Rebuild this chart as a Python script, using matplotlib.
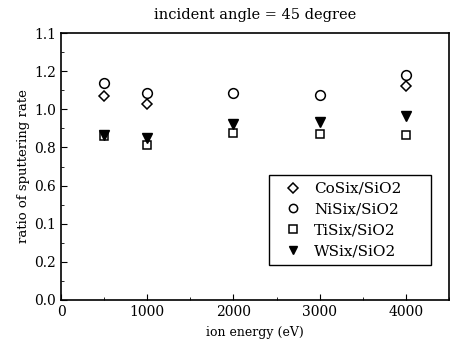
import numpy as np
import matplotlib.pyplot as plt
from matplotlib.ticker import MultipleLocator

plt.rcParams['font.family'] = ['DejaVu Serif']

# values
co_x = [500, 1000, 4000]
co_y = [1.07, 1.03, 1.12]
ni_x = [500, 1000, 2000, 3000, 4000]
ni_y = [1.14, 1.087, 1.087, 1.073, 1.18]
ti_x = [500, 1000, 2000, 3000, 4000]
ti_y = [0.86, 0.813, 0.877, 0.872, 0.867]
w_x = [500, 1000, 2000, 3000, 4000]
w_y = [0.865, 0.848, 0.923, 0.935, 0.965]

ytick_vals = [0.0, 0.2, 0.4, 0.6, 0.8, 1.0, 1.2, 1.4]
ytick_text = ['0.0', '0.2', '0.1', '0.6', '0.8', '1.0', '1.2', '1.1']
xtick_vals = [0, 1000, 2000, 3000, 4000]

fig = plt.figure(figsize=(4.53, 3.48), dpi=100)
ax = fig.add_axes([0.135, 0.138, 0.856, 0.767])

ax.plot(co_x, co_y, 'D', ms=5.5, mfc='white', mec='black', mew=1.1, ls='none', label='CoSix/SiO2')
ax.plot(ni_x, ni_y, 'o', ms=7, mfc='white', mec='black', mew=1.1, ls='none', label='NiSix/SiO2')
ax.plot(ti_x, ti_y, 's', ms=6, mfc='white', mec='black', mew=1.1, ls='none', label='TiSix/SiO2')
ax.plot(w_x, w_y, 'v', ms=7, color='black', ls='none', label='WSix/SiO2')

ax.set_xlim(0, 4500)
ax.set_ylim(0, 1.4)
ax.set_xticks(xtick_vals)
ax.set_yticks(ytick_vals)
ax.set_yticklabels(ytick_text)
ax.xaxis.set_minor_locator(MultipleLocator(500))
ax.yaxis.set_minor_locator(MultipleLocator(0.1))
ax.tick_params(which='both', direction='in', top=False, right=False, labelsize=10)
ax.tick_params(which='major', length=4)
ax.tick_params(which='minor', length=2)
for s in ax.spines.values():
    s.set_linewidth(1.2)

ax.set_xlabel('ion energy (eV)', fontsize=9, labelpad=5)
ax.set_ylabel('ratio of sputtering rate', fontsize=9.5, labelpad=3)
ax.set_title('incident angle = 45 degree', fontsize=10.5, pad=10)

leg = ax.legend(loc='upper left', bbox_to_anchor=(0.536, 0.0, 0.418, 0.468), mode='expand',
                borderaxespad=0, fontsize=11, fancybox=False, edgecolor='black',
                framealpha=1, markerscale=0.85, handlelength=2.2, handletextpad=0.3,
                borderpad=0.45, labelspacing=0.45)
leg.get_frame().set_linewidth(1.0)

fig.savefig('out.png', dpi=100)
